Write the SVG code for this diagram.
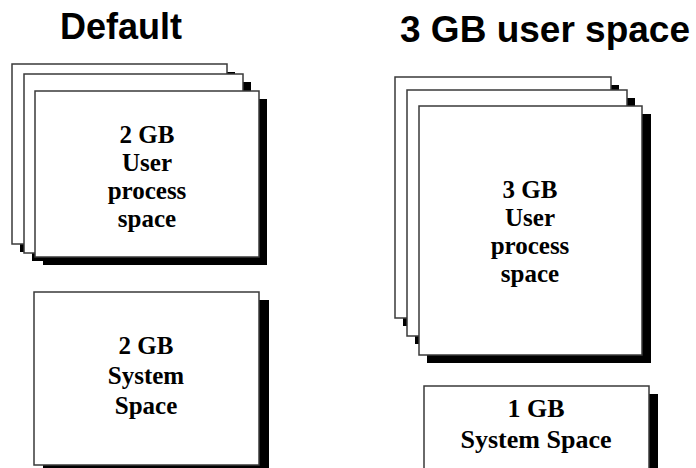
<svg xmlns="http://www.w3.org/2000/svg" width="696" height="468" viewBox="0 0 696 468">
  <style>
    .page { fill: #ffffff; stroke: #3a3a3a; stroke-width: 1.5; }
    .shadow { fill: #000000; }
    .title { font-family: "Liberation Sans", Arial, sans-serif; font-weight: bold; font-size: 36px; fill: #000; text-anchor: middle; }
    .title-wide { font-size: 37px; }
    .label { font-family: "Liberation Serif", "DejaVu Serif", serif; font-weight: bold; font-size: 25px; fill: #000; text-anchor: middle; }
    .label-lg { font-size: 26px; }
  </style>
  <rect width="696" height="468" fill="#ffffff"/>

  <g id="title-default"><text class="title" x="121" y="39">Default</text></g>
  <g id="title-3gb"><text class="title title-wide" x="545" y="42">3 GB user space</text></g>

  <!-- Default layout: stacked user process pages -->
  <g id="default-user-space">
    <rect class="shadow" x="20" y="72" width="215" height="180"/>
    <rect class="page" x="12" y="64" width="215" height="180"/>
    <rect class="shadow" x="32" y="82" width="219" height="179"/>
    <rect class="page" x="24" y="74" width="219" height="179"/>
    <rect class="shadow" x="43" y="99" width="224" height="166"/>
    <rect class="page" x="35" y="91" width="224" height="166"/>
    <text class="label" x="147" y="143">2 GB</text>
    <text class="label" x="147" y="171">User</text>
    <text class="label" x="147" y="199">process</text>
    <text class="label" x="147" y="227">space</text>
  </g>

  <g id="default-system-space">
    <rect class="shadow" x="43" y="300" width="226" height="173"/>
    <rect class="page" x="34" y="292" width="225" height="173"/>
    <text class="label" x="146" y="354">2 GB</text>
    <text class="label" x="146" y="384">System</text>
    <text class="label" x="146" y="414">Space</text>
  </g>

  <!-- 3 GB layout -->
  <g id="large-user-space">
    <rect class="shadow" x="403" y="85" width="216" height="241"/>
    <rect class="page" x="395" y="77" width="216" height="241"/>
    <rect class="shadow" x="415" y="98" width="220" height="246"/>
    <rect class="page" x="407" y="90" width="220" height="246"/>
    <rect class="shadow" x="427" y="114" width="224" height="249"/>
    <rect class="page" x="419" y="106" width="223" height="249"/>
    <text class="label" x="530" y="198">3 GB</text>
    <text class="label" x="530" y="226">User</text>
    <text class="label" x="530" y="254">process</text>
    <text class="label" x="530" y="282">space</text>
  </g>

  <g id="large-system-space">
    <rect class="shadow" x="433" y="394" width="225" height="100"/>
    <rect class="page" x="424" y="386" width="225" height="100"/>
    <text class="label label-lg" x="536" y="417">1 GB</text>
    <text class="label label-lg" x="536" y="448">System Space</text>
  </g>

  <g id="connectors"></g>
</svg>
